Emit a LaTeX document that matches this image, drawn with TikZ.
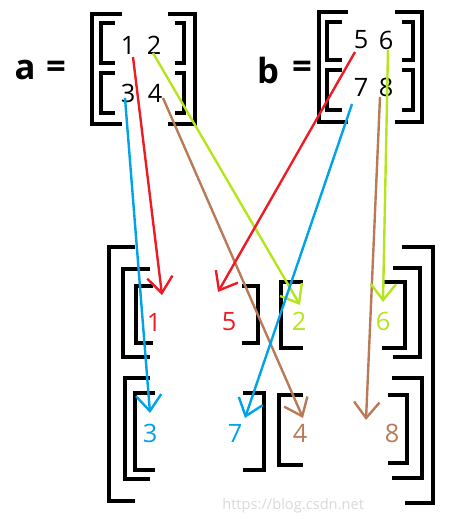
\documentclass[tikz,border=0pt]{standalone}
\usepackage{fontspec}
\setmainfont{Open Sans}
\usetikzlibrary{arrows.meta}
\definecolor{pred}{HTML}{ED1C24}
\definecolor{pgreen}{HTML}{B5E61D}
\definecolor{pblue}{HTML}{00A2E8}
\definecolor{pbrown}{HTML}{B97A57}
\begin{document}
\begin{tikzpicture}[x=0.75pt,y=-0.75pt,
  br/.style={line width=2.5pt,black,line cap=butt,line join=miter},
  num/.style={inner sep=0pt,font=\fontsize{19}{21}\selectfont},
  lbl/.style={inner sep=0pt,font=\fontsize{26}{30}\selectfont\bfseries},
  arr/.style={line width=1.8pt,-{Straight Barb[length=12pt,width=19pt,line width=1.8pt]}}]
\useasboundingbox (0,0) rectangle (449,519);
% ---- matrix a ----
\node[lbl] (la) at (25,70) {a};
\node[lbl] (eqa) at (56,70) {=};
\draw[br] (122,14) -- (92,14) -- (92,124) -- (122,124);
\draw[br] (168,14) -- (195,14) -- (195,124) -- (168,124);
\draw[br] (115,23) -- (101,23) -- (101,63) -- (115,63);
\draw[br] (175,23) -- (184,23) -- (184,63) -- (175,63);
\draw[br] (115,73) -- (101,73) -- (101,113) -- (115,113);
\draw[br] (175,73) -- (184,73) -- (184,113) -- (175,113);
\node[num] (a1) at (128,45) {1};
\node[num] (a2) at (154,45) {2};
\node[num] (a3) at (128,93) {3};
\node[num] (a4) at (155,93) {4};
% ---- matrix b ----
\node[lbl] (lb) at (268,70) {b};
\node[lbl] (eqb) at (302,70) {=};
\draw[br] (348,12) -- (319,12) -- (319,122) -- (348,122);
\draw[br] (395,12) -- (422,12) -- (422,122) -- (395,122);
\draw[br] (342,22) -- (327,22) -- (327,60) -- (342,60);
\draw[br] (402,22) -- (413,22) -- (413,60) -- (402,60);
\draw[br] (342,70) -- (327,70) -- (327,110) -- (342,110);
\draw[br] (402,70) -- (413,70) -- (413,110) -- (402,110);
\node[num] (b5) at (361,40) {5};
\node[num] (b6) at (386,40) {6};
\node[num] (b7) at (361,87) {7};
\node[num] (b8) at (386,87) {8};
% ---- result brackets ----
\draw[br] (135,247) -- (109,247) -- (109,501) -- (135,501);
\draw[br] (402,247) -- (433,247) -- (433,503) -- (405,503);
\draw[br] (150,269) -- (123,269) -- (123,357) -- (150,357);
\draw[br] (393,268) -- (420,268) -- (420,357) -- (393,357);
\draw[br] (153,286) -- (136,286) -- (136,343) -- (153,343);
\draw[br] (242,286) -- (258,286) -- (258,343) -- (242,343);
\draw[br] (303,282) -- (281,282) -- (281,348) -- (303,348);
\draw[br] (382,282) -- (405,282) -- (405,348) -- (382,348);
\draw[br] (150,378) -- (125,378) -- (125,479) -- (150,479);
\draw[br] (392,378) -- (422,378) -- (422,478) -- (392,478);
\draw[br] (155,393) -- (135,393) -- (135,470) -- (155,470);
\draw[br] (243,393) -- (264,393) -- (264,470) -- (243,470);
\draw[br] (303,395) -- (279,395) -- (279,465) -- (303,465);
\draw[br] (388,395) -- (407,395) -- (407,463) -- (388,463);
% ---- result numbers ----
\node[num,text=pred] (r1) at (154,322) {1};
\node[num,text=pred] (r5) at (229,322) {5};
\node[num,text=pgreen] (r2) at (299,321) {2};
\node[num,text=pgreen] (r6) at (383,321) {6};
\node[num,text=pblue] (r3) at (150,433) {3};
\node[num,text=pblue] (r7) at (235,433) {7};
\node[num,text=pbrown] (r4) at (300,433) {4};
\node[num,text=pbrown] (r8) at (392,433) {8};
% ---- watermark ----
\node[inner sep=0pt,text=black!15,font=\fontsize{11}{12}\selectfont,anchor=west] (wm) at (222,506) {https://blog.csdn.net};
% ---- arrow endpoints ----
\coordinate (s1) at (133,57);  \coordinate (t1) at (162,295);
\coordinate (s5) at (355,52);  \coordinate (t5) at (218,292);
\coordinate (s2) at (153,53);  \coordinate (t2) at (300,305);
\coordinate (s6) at (388,50);  \coordinate (t6) at (383,302);
\coordinate (s3) at (125,98);  \coordinate (t3) at (150,413);
\coordinate (s7) at (352,104); \coordinate (t7) at (245,418);
\coordinate (s4) at (163,98);  \coordinate (t4) at (303,418);
\coordinate (s8) at (380,97);  \coordinate (t8) at (366,420);
\draw[arr,pbrown] (s4) -- (t4);
\draw[arr,pbrown] (s8) -- (t8);
\draw[arr,pgreen] (s2) -- (t2);
\draw[arr,pgreen] (s6) -- (t6);
\draw[arr,pblue] (s3) -- (t3);
\draw[arr,pblue] (s7) -- (t7);
\draw[arr,pred] (s1) -- (t1);
\draw[arr,pred] (s5) -- (t5);
\end{tikzpicture}
\end{document}
